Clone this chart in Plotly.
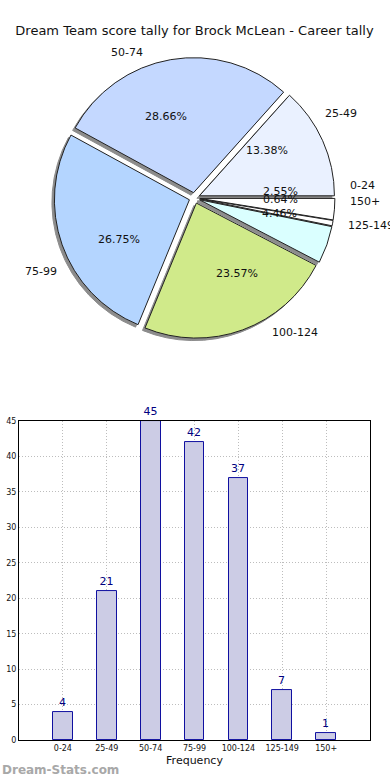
import math
import plotly.graph_objects as go

categories = ["0-24", "25-49", "50-74", "75-99", "100-124", "125-149", "150+"]
counts = [4, 21, 45, 42, 37, 7, 1]
pie_colors = ["#FFFFFF", "#EAF1FF", "#C4D8FF", "#B4D5FF", "#D0EA8A", "#DAFFFF", "#FFFFFF"]
y_ticks = [0, 5, 10, 15, 20, 25, 30, 35, 40, 45]

FONT = "DejaVu Sans"
PLOT_W, PLOT_H = 351, 740     # plot-area size in px (390x780 minus margins)
R_PX = 135                    # pie radius in px
PULL = 0.04
CY = (PLOT_H - 198) / PLOT_H  # pie centre as fraction of plot-area height
PCT_DIST, LABEL_DIST = 0.6, 1.1

pie_half = R_PX * (1 + PULL) / PLOT_H
shadow_dx, shadow_dy = 2.5 / PLOT_W, 2.5 / PLOT_H

fig = go.Figure()

# shadow (same pie, shifted down-left)
fig.add_trace(go.Pie(
    labels=categories, values=counts, sort=False, direction="counterclockwise",
    rotation=90, pull=PULL,
    marker=dict(colors=["#8C8C8C"] * len(categories), line=dict(color="#8C8C8C", width=1)),
    textinfo="none",
    domain=dict(x=[0, 1 - 2 * shadow_dx], y=[CY - pie_half - shadow_dy, CY + pie_half - shadow_dy]),
    showlegend=False, hoverinfo="skip",
))
# visible exploded pie
fig.add_trace(go.Pie(
    labels=categories, values=counts, sort=False, direction="counterclockwise",
    rotation=90, pull=PULL,
    marker=dict(colors=pie_colors, line=dict(color="#222222", width=1)),
    textinfo="none",
    domain=dict(x=[0, 1], y=[CY - pie_half, CY + pie_half]),
    showlegend=False, hoverinfo="label+value+percent",
))

# Bar chart
fig.add_trace(go.Bar(
    x=categories, y=counts, width=0.45,
    marker=dict(color="#CCCCE5", line=dict(color="#1010A0", width=1)),
    text=[str(c) for c in counts], textposition="outside",
    textfont=dict(family=FONT, size=11, color="#000080"),
    cliponaxis=False, showlegend=False,
    xaxis="x", yaxis="y",
))

# pie text labels, positioned in a hidden equal-aspect axis pair (1 unit = pie radius)
total = sum(counts)
annotations = []
cum = 0
for cat, c in zip(categories, counts):
    mid = math.radians((cum + c / 2) / total * 360)
    cum += c
    cx, sy = math.cos(mid), math.sin(mid)
    rp = PCT_DIST + PULL
    annotations.append(dict(
        text=f"{100 * c / total:.2f}%", x=rp * cx, y=rp * sy, xref="x2", yref="y2",
        xanchor="center", yanchor="middle", showarrow=False,
        font=dict(family=FONT, size=11, color="#111111"),
    ))
    rl = LABEL_DIST + PULL
    annotations.append(dict(
        text=cat, x=rl * cx, y=rl * sy, xref="x2", yref="y2",
        xanchor="left" if cx > 0 else "right", yanchor="middle", showarrow=False,
        font=dict(family=FONT, size=11, color="#111111"),
    ))

annotations.append(dict(
    text="<b>Dream-Stats.com</b>", xref="paper", yref="paper",
    x=-19 / PLOT_W, y=-30 / PLOT_H, xanchor="left", yanchor="middle", showarrow=False,
    font=dict(family=FONT, size=12, color="#A8A8A8"),
))

ax2_half_y = 0.2173
xr = (PLOT_W / 2) / R_PX
yr = ax2_half_y * PLOT_H / R_PX

GRID = dict(showgrid=True, gridcolor="#BDBDBD", griddash="1px,2px", gridwidth=1)

fig.update_layout(
    width=390, height=780,
    paper_bgcolor="white", plot_bgcolor="white",
    margin=dict(l=19, r=20, t=0, b=40, autoexpand=False),
    font=dict(family=FONT, color="#111111"),
    title=dict(text="Dream Team score tally for Brock McLean - Career tally",
               x=0.5, xref="paper", y=1 - 30 / 780, yref="container",
               xanchor="center", yanchor="middle",
               font=dict(family=FONT, size=13, color="#111111")),
    xaxis=dict(
        domain=[0, 1], range=[-1, 7], type="category", automargin=False,
        showline=True, linecolor="black", linewidth=1, mirror=True,
        ticks="", tickfont=dict(family=FONT, size=8, color="#111111"),
        title=dict(text="Frequency", font=dict(family=FONT, size=11, color="#111111"), standoff=4),
        **GRID,
    ),
    yaxis=dict(
        domain=[0, 0.431], range=[0, 45], tickvals=y_ticks, automargin=False,
        showline=True, linecolor="black", linewidth=1, mirror=True,
        ticks="", zeroline=False,
        tickfont=dict(family=FONT, size=8, color="#111111"),
        **GRID,
    ),
    xaxis2=dict(domain=[0, 1], range=[-xr, xr], visible=False, fixedrange=True, anchor="y2"),
    yaxis2=dict(domain=[CY - ax2_half_y, CY + ax2_half_y], range=[-yr, yr],
                visible=False, fixedrange=True, anchor="x2"),
    bargap=0,
    annotations=annotations,
)

fig.write_html("out.html", config={"displayModeBar": False},
               post_script="document.body.style.margin='0';")
